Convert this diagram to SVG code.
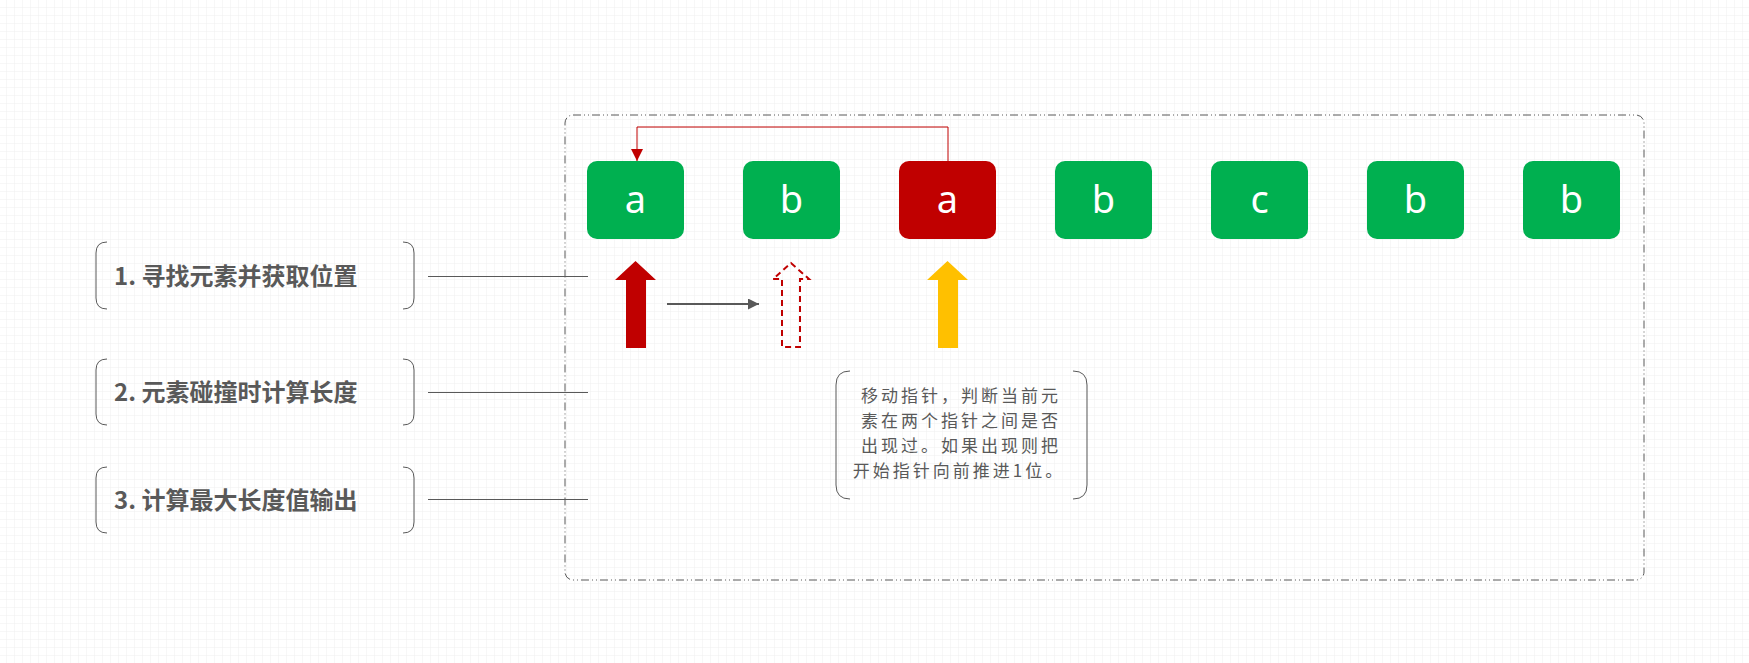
<svg xmlns="http://www.w3.org/2000/svg" width="1749" height="663" viewBox="0 0 1749 663">
<defs>
<pattern id="grid" x="-1" y="0" width="8" height="8" patternUnits="userSpaceOnUse">
<path d="M8 0V8M0 8H8" fill="none" stroke="#efefef" stroke-width="1"/>
</pattern>
<marker id="redHead" markerUnits="userSpaceOnUse" markerWidth="12" markerHeight="12" refX="12" refY="6" orient="auto">
<path d="M0 0L12 6L0 12z" fill="#c00000"/>
</marker>
<marker id="grayHead" markerUnits="userSpaceOnUse" markerWidth="12" markerHeight="12" refX="11" refY="5.5" orient="auto">
<path d="M0 0L11 5.5L0 11z" fill="#595959"/>
</marker>
</defs>
<style>
.node rect{stroke:none}
.green{fill:#00b050}
.red{fill:#c00000}
.letter{font-family:"Noto Sans","Open Sans","Noto Sans CJK SC",sans-serif;font-size:38px;fill:#ffffff;text-anchor:middle}
.bracket{fill:none;stroke:#595959;stroke-width:1}
.label{font-family:"Noto Sans CJK SC","Liberation Sans",sans-serif;font-size:24px;font-weight:bold;fill:#595959}
.note{font-family:"Noto Sans CJK SC","Liberation Sans",sans-serif;font-size:17px;letter-spacing:3px;fill:#595959;text-anchor:middle}
.link{fill:none;stroke:#595959;stroke-width:1}
</style>
<rect width="1749" height="663" fill="#ffffff"/>
<rect width="1749" height="663" fill="url(#grid)"/>

<g id="container">
<rect x="565" y="115" width="1079" height="465" rx="8" fill="none" stroke="#595959" stroke-width="1" stroke-dasharray="8 3 1 3 1 3"/>
</g>

<g id="node-a1" class="node"><rect class="green" x="587" y="161" width="97" height="78" rx="10"/><text class="letter" x="635.5" y="213">a</text></g>
<g id="node-b1" class="node"><rect class="green" x="743" y="161" width="97" height="78" rx="10"/><text class="letter" x="791.5" y="213">b</text></g>
<g id="node-a2" class="node"><rect class="red" x="899" y="161" width="97" height="78" rx="10"/><text class="letter" x="947.5" y="213">a</text></g>
<g id="node-b2" class="node"><rect class="green" x="1055" y="161" width="97" height="78" rx="10"/><text class="letter" x="1103.5" y="213">b</text></g>
<g id="node-c" class="node"><rect class="green" x="1211" y="161" width="97" height="78" rx="10"/><text class="letter" x="1259.5" y="213">c</text></g>
<g id="node-b3" class="node"><rect class="green" x="1367" y="161" width="97" height="78" rx="10"/><text class="letter" x="1415.5" y="213">b</text></g>
<g id="node-b4" class="node"><rect class="green" x="1523" y="161" width="97" height="78" rx="10"/><text class="letter" x="1571.5" y="213">b</text></g>

<g id="pointer-start">
<polygon points="635.5,261 656,280 646,280 646,348 626,348 626,280 615,280" fill="#c00000"/>
</g>
<g id="pointer-next">
<polygon points="791,263 809,279 800,279 800,347 782,347 782,279 773,279" fill="none" stroke="#c00000" stroke-width="2" stroke-dasharray="6 4"/>
</g>
<g id="pointer-end">
<polygon points="947.5,261 968,280 958,280 958,348 938,348 938,280 927,280" fill="#ffc000"/>
</g>

<g id="step1">
<path class="bracket" d="M107 242Q96 242 96 253V298Q96 309 107 309M403 242Q414 242 414 253V298Q414 309 403 309"/>
<text class="label" x="114" y="285">1. 寻找元素并获取位置</text>
</g>
<g id="step2">
<path class="bracket" d="M107 359Q96 359 96 370V414Q96 425 107 425M403 359Q414 359 414 370V414Q414 425 403 425"/>
<text class="label" x="114" y="401">2. 元素碰撞时计算长度</text>
</g>
<g id="step3">
<path class="bracket" d="M107 467Q96 467 96 478V522Q96 533 107 533M403 467Q414 467 414 478V522Q414 533 403 533"/>
<text class="label" x="114" y="509">3. 计算最大长度值输出</text>
</g>

<g id="note">
<path class="bracket" d="M850 371Q836 371 836 385V485Q836 499 850 499M1073 371Q1087 371 1087 385V485Q1087 499 1073 499"/>
<text class="note" x="961" y="402">移动指针，判断当前元</text>
<text class="note" x="961" y="427">素在两个指针之间是否</text>
<text class="note" x="961" y="452">出现过。如果出现则把</text>
<text class="note" x="959" y="477">开始指针向前推进1位。</text>
</g>

<g id="connectors">
<path d="M948 161V127H637V161" fill="none" stroke="#c00000" stroke-width="1" marker-end="url(#redHead)"/>
<line x1="667" y1="304" x2="759" y2="304" stroke="#595959" stroke-width="2" marker-end="url(#grayHead)"/>
<line class="link" x1="428" y1="276.5" x2="588" y2="276.5"/>
<line class="link" x1="428" y1="392.5" x2="588" y2="392.5"/>
<line class="link" x1="428" y1="499.5" x2="588" y2="499.5"/>
</g>
</svg>
